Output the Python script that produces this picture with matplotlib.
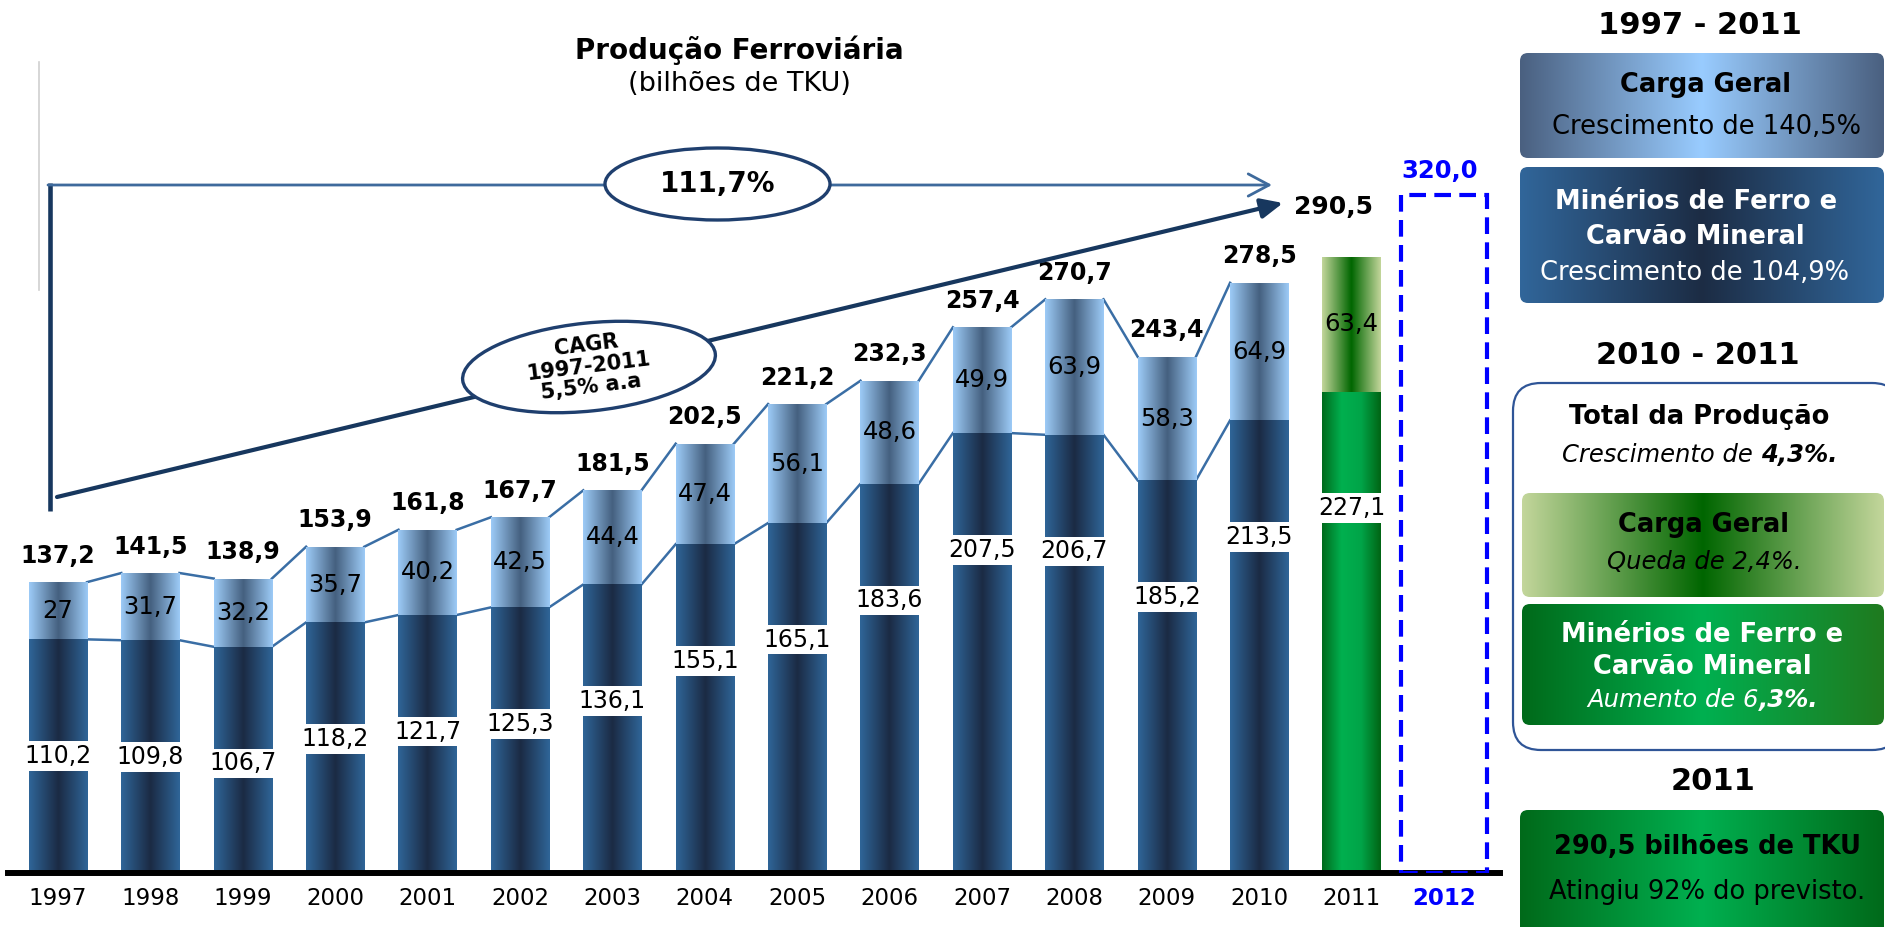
"""
Produção Ferroviária 1997-2011 (bilhões de TKU) – stacked bars with side panel
"""
import numpy as np
import matplotlib
matplotlib.use('Agg')
import matplotlib.pyplot as plt
from matplotlib.colors import LinearSegmentedColormap
from matplotlib.patches import Ellipse, FancyBboxPatch

# ── 0. Data ───────────────────────────────────────────────────────────────────
years = ['1997', '1998', '1999', '2000', '2001', '2002', '2003', '2004',
         '2005', '2006', '2007', '2008', '2009', '2010', '2011']
minerio = [110.2, 109.8, 106.7, 118.2, 121.7, 125.3, 136.1, 155.1,
           165.1, 183.6, 207.5, 206.7, 185.2, 213.5, 227.1]   # minérios de ferro e carvão
carga = [27, 31.7, 32.2, 35.7, 40.2, 42.5, 44.4, 47.4,
         56.1, 48.6, 49.9, 63.9, 58.3, 64.9, 63.4]            # carga geral
totais = [137.2, 141.5, 138.9, 153.9, 161.8, 167.7, 181.5, 202.5,
          221.2, 232.3, 257.4, 270.7, 243.4, 278.5, 290.5]
ano_prev = '2012'
previsto = 320.0

# ── 1. Colours ────────────────────────────────────────────────────────────────
DARK = ['#2f6598', '#1b2b44', '#2f6598']
LIGHT = ['#9dcbf7', '#44607f', '#9dcbf7']
G_DARK = ['#006a1c', '#00b04f', '#00a448', '#006414']
G_LIGHT = ['#c3d69b', '#006600', '#c3d69b']
LINE = '#3a6ea5'
NAVY = '#17375e'
BLUE = '#0000ff'


def fmt(v):
    s = f'{v:.1f}'.replace('.', ',')
    return s[:-2] if s.endswith(',0') else s


def grad_fill(a, patch, colors, z=2):
    cmap = LinearSegmentedColormap.from_list('g', colors)
    x0, y0 = patch.get_x(), patch.get_y()
    w, h = patch.get_width(), patch.get_height()
    im = a.imshow(np.linspace(0, 1, 256)[None, :], cmap=cmap, aspect='auto',
                  extent=(x0, x0 + w, y0, y0 + h), zorder=z, interpolation='bilinear')
    im.set_clip_path(patch)


# ── 2. Figure / axes ──────────────────────────────────────────────────────────
W, H = 1885, 927
fig = plt.figure(figsize=(W / 100, H / 100), dpi=100)

base_px, unit_px = 873, 2.12
step, first_px = 92.4, 58
ax = fig.add_axes([8 / W, 1 - base_px / H, (1500 - 8) / W, base_px / H])
xlim = ((8 - first_px) / step, (1500 - first_px) / step)
ylim = (0, base_px / unit_px)

xs = np.arange(len(years))
bw = 0.63
tops = np.array(minerio) + np.array(carga)

# series lines (1997-2010)
for i in range(len(years) - 2):
    for arr in (tops, minerio):
        ax.plot([xs[i] + bw / 2, xs[i + 1] - bw / 2], [arr[i], arr[i + 1]],
                color=LINE, lw=1.8, zorder=1)

bars_bot = ax.bar(xs, minerio, bw, color=DARK[0], zorder=2)
bars_top = ax.bar(xs, carga, bw, bottom=minerio, color=LIGHT[0], zorder=2)
for i, (pb, pt) in enumerate(zip(bars_bot, bars_top)):
    if years[i] == '2011':
        grad_fill(ax, pb, G_DARK)
        grad_fill(ax, pt, G_LIGHT)
    else:
        grad_fill(ax, pb, DARK)
        grad_fill(ax, pt, LIGHT)

# forecast 2012 (dashed empty bar)
ax.bar(len(years), previsto, 0.92, fill=False, edgecolor=BLUE, lw=3,
       ls=(0, (4, 2)), zorder=3)
ax.annotate(f'{previsto:.1f}'.replace('.', ','), (len(years), previsto),
            xytext=(-3, 17), textcoords='offset points', ha='center', va='center',
            fontsize=17.5, fontweight='bold', color=BLUE)

# value labels
for i in range(len(years)):
    m, c = minerio[i], carga[i]
    ax.text(xs[i], m - 55, fmt(m), ha='center', va='center', fontsize=17, zorder=5,
            bbox=dict(fc='white', ec='none', boxstyle='square,pad=0.12'))
    ax.text(xs[i], m + c / 2, fmt(c), ha='center', va='center', fontsize=17.5, zorder=5)
    off = (-13, 36) if years[i] == '2011' else (0, 19)
    ax.annotate(fmt(totais[i]), (xs[i], tops[i]), xytext=off, textcoords='offset points',
                ha='center', va='center', fontsize=18 if years[i] == '2011' else 17,
                fontweight='bold', zorder=5)

ax.set_xticks(np.arange(len(years) + 1))
ax.set_xticklabels(years + [ano_prev], fontsize=16.5)
ax.get_xticklabels()[-1].set_color(BLUE)
ax.get_xticklabels()[-1].set_fontweight('bold')
ax.tick_params(axis='x', length=0, pad=10)
ax.set_yticks([])
for s in ('top', 'left', 'right'):
    ax.spines[s].set_visible(False)
ax.spines['bottom'].set_linewidth(4.3)
ax.spines['bottom'].set_color('black')
ax.set_xlim(xlim)
ax.set_ylim(ylim)

# ── 3. Overlay in pixel coordinates ───────────────────────────────────────────
ov = fig.add_axes([0, 0, 1, 1])
ov.set_xlim(0, W)
ov.set_ylim(H, 0)
ov.axis('off')

ov.text(739, 50, 'Produção Ferroviária', ha='center', va='center', fontsize=20, fontweight='bold')
ov.text(739, 84, '(bilhões de TKU)', ha='center', va='center', fontsize=19.5)

ov.plot([39, 39], [62, 290], color='#d0d0d0', lw=1.2)
ov.plot([50, 50], [183, 511], color=NAVY, lw=3.3, solid_capstyle='butt')
ov.annotate('', xy=(1272, 185), xytext=(48, 185),
            arrowprops=dict(arrowstyle='->,head_length=1.5,head_width=0.8', color='#3e6a9c',
                            lw=2, shrinkA=0, shrinkB=0, mutation_scale=10))
ov.annotate('', xy=(1283, 203), xytext=(57, 497),
            arrowprops=dict(arrowstyle='-|>,head_length=1.1,head_width=0.5', color=NAVY,
                            lw=3, shrinkA=0, shrinkB=0, mutation_scale=12))
ov.add_patch(Ellipse((717.5, 184), 225, 72, fc='white', ec='#1f3f6e', lw=2.4, zorder=4))
ov.text(717.5, 184, '111,7%', ha='center', va='center', fontsize=20, fontweight='bold', zorder=5)
ov.add_patch(Ellipse((589, 367), 254, 88, angle=-6, fc='white', ec='#1f3f6e', lw=2.4, zorder=4))
ov.text(589, 366, 'CAGR\n1997-2011\n5,5% a.a', ha='center', va='center', fontsize=15,
        fontweight='bold', rotation=7, rotation_mode='anchor', linespacing=1.05, zorder=5)


# ── 4. Side panel ─────────────────────────────────────────────────────────────
def box(x0, y0, x1, y1, cols, r=8):
    p = FancyBboxPatch((x0, y0), x1 - x0, y1 - y0, boxstyle=f'round,pad=0,rounding_size={r}',
                       fc='none', ec='none')
    ov.add_patch(p)
    grad_fill(ov, p, cols)


def rich(x, y, parts, size, color='black'):
    r = fig.canvas.get_renderer()
    ts = [ov.text(0, y, s, fontsize=size, color=color, ha='left', va='center', zorder=6, **kw)
          for s, kw in parts]
    ws = [t.get_window_extent(r).width for t in ts]
    cur = x - sum(ws) / 2
    for t, w in zip(ts, ws):
        t.set_x(cur)
        cur += w


def txt(x, y, s, size=18.5, **kw):
    ov.text(x, y, s, ha='center', va='center', fontsize=size, zorder=6, **kw)


txt(1700, 25, '1997 - 2011', 22, fontweight='bold')
box(1520, 53, 1884, 158, ['#4a6080', '#99ccff', '#4a6080'])
txt(1706, 85, 'Carga Geral', fontweight='bold')
txt(1706, 127, 'Crescimento de 140,5%')
box(1520, 167, 1884, 303, ['#31669a', '#1c2c44', '#31669a'])
txt(1696, 202, 'Minérios de Ferro e', fontweight='bold', color='white')
txt(1695, 237, 'Carvão Mineral', fontweight='bold', color='white')
txt(1695, 273, 'Crescimento de 104,9%', color='white')

txt(1698, 355, '2010 - 2011', 22, fontweight='bold')
ov.add_patch(FancyBboxPatch((1513, 383), 387, 367, boxstyle='round,pad=0,rounding_size=28',
                            fc='white', ec='#2f5597', lw=1.6, zorder=1))
txt(1699, 417, 'Total da Produção', fontweight='bold')
rich(1700, 455, [('Crescimento de ', dict(style='italic')),
                 ('4,3%.', dict(style='italic', fontweight='bold'))], 17.5)
box(1522, 493, 1884, 597, G_LIGHT)
txt(1703, 525, 'Carga Geral', fontweight='bold')
txt(1704, 562, 'Queda de 2,4%.', 17.5, style='italic')
box(1522, 604, 1884, 725, ['#006a1a', '#00b050', '#1f7a1f'])
txt(1702, 635, 'Minérios de Ferro e', fontweight='bold', color='white')
txt(1702, 667, 'Carvão Mineral', fontweight='bold', color='white')
rich(1703, 700, [('Aumento de 6', dict(style='italic')),
                 (',3%.', dict(style='italic', fontweight='bold'))], 17.5, color='white')

txt(1713, 782, '2011', 22, fontweight='bold')
box(1520, 810, 1884, 945, ['#006a1a', '#00b050', '#006a1a'])
txt(1708, 847, '290,5 bilhões de TKU', fontweight='bold')
txt(1707, 892, 'Atingiu 92% do previsto.')

ov.set_xlim(0, W)
ov.set_ylim(H, 0)
ax.set_xlim(xlim)
ax.set_ylim(ylim)

fig.savefig('out.png', dpi=100)
